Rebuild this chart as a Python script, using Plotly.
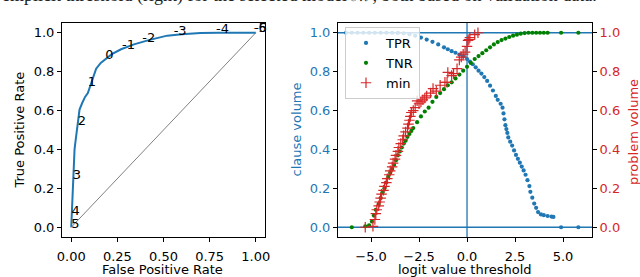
import plotly.graph_objects as go

# ---------------- data ----------------
caption_text = "emplicit threshold (right) for the selected model \u2133, both based on validation data."

roc_fpr = [0, 0.002, 0.005, 0.008, 0.011, 0.015, 0.018, 0.023, 0.029, 0.037, 0.045, 0.06, 0.075, 0.09,
           0.105, 0.12, 0.135, 0.16, 0.19, 0.22, 0.27, 0.34, 0.42, 0.52, 0.6, 0.7, 0.8, 0.9, 1.0]
roc_tpr = [0, 0.05, 0.16, 0.22, 0.28, 0.35, 0.40, 0.44, 0.49, 0.55, 0.605, 0.64, 0.67, 0.69,
           0.73, 0.77, 0.815, 0.845, 0.87, 0.89, 0.915, 0.94, 0.962, 0.985, 0.992, 0.998, 1.0, 1.0, 1.0]
diag_x = [0, 1]
diag_y = [0, 1]

thr_labels = ["5", "4", "3", "2", "1", "0", "-1", "-2", "-3", "-4", "-5", "-6"]
thr_fpr = [0.0, 0.002, 0.008, 0.035, 0.09, 0.185, 0.275, 0.385, 0.555, 0.785, 0.99, 0.99]
thr_tpr = [-0.02, 0.045, 0.23, 0.51, 0.71, 0.85, 0.9, 0.935, 0.97, 0.98, 0.985, 0.985]

tpr_x = [-6.3, -6.0, -5.7, -5.4, -5.1, -4.8, -4.5, -4.2, -3.9, -3.6, -3.3, -3.0, -2.7, -2.4, -2.1, -1.8,
         -1.5, -1.2, -1.0, -0.8, -0.6, -0.4, -0.2, 0.0, 0.15, 0.3, 0.45, 0.6, 0.75, 0.9, 1.05, 1.2,
         1.35, 1.5, 1.6, 1.75, 1.85, 1.9, 1.95, 2.0, 2.05, 2.1, 2.15, 2.25, 2.35, 2.45, 2.55, 2.65,
         2.75, 2.85, 2.95, 3.05, 3.15, 3.25, 3.3, 3.4, 3.5, 3.6, 3.7, 3.85, 4.0, 4.2, 4.4, 4.5, 4.9, 5.8]
tpr_y = [1.0, 1.0, 1.0, 1.0, 1.0, 1.0, 1.0, 1.0, 1.0, 0.999, 0.997, 0.992, 0.984, 0.975, 0.965, 0.953,
         0.94, 0.925, 0.915, 0.905, 0.897, 0.888, 0.878, 0.865, 0.852, 0.838, 0.822, 0.805, 0.79, 0.772,
         0.752, 0.728, 0.703, 0.675, 0.655, 0.635, 0.615, 0.585, 0.555, 0.525, 0.505, 0.485, 0.462,
         0.44, 0.42, 0.395, 0.372, 0.352, 0.332, 0.312, 0.292, 0.27, 0.242, 0.212, 0.182, 0.152,
         0.122, 0.1, 0.078, 0.066, 0.062, 0.058, 0.055, 0.053, 0.0, 0.0]

tnr_x = [-6.0, -5.3, -5.1, -4.95, -4.85, -4.75, -4.6, -4.5, -4.4, -4.3, -4.2, -4.1, -4.0, -3.9, -3.8,
         -3.7, -3.6, -3.5, -3.4, -3.3, -3.2, -3.1, -3.0, -2.9, -2.8, -2.6, -2.4, -2.2, -2.0, -1.8, -1.6,
         -1.4, -1.2, -1.0, -0.8, -0.6, -0.4, -0.2, 0.0, 0.2, 0.4, 0.6, 0.8, 1.0, 1.2, 1.4, 1.6, 1.8,
         2.0, 2.2, 2.4, 2.6, 2.8, 3.0, 3.2, 3.4, 3.6, 3.8, 4.0, 4.2, 4.9, 5.8]
tnr_y = [0.0, 0.005, 0.01, 0.03, 0.06, 0.09, 0.12, 0.15, 0.18, 0.2, 0.23, 0.26, 0.28, 0.3, 0.32,
         0.345, 0.37, 0.39, 0.41, 0.43, 0.445, 0.465, 0.48, 0.495, 0.51, 0.54, 0.57, 0.595, 0.615,
         0.645, 0.67, 0.69, 0.71, 0.73, 0.745, 0.765, 0.785, 0.805, 0.825, 0.845, 0.865, 0.88, 0.895,
         0.91, 0.925, 0.94, 0.952, 0.962, 0.97, 0.978, 0.985, 0.99, 0.995, 0.998, 1.0, 1.0, 1.0, 1.0,
         1.0, 1.0, 1.0, 1.0]

min_x = [-5.3, -4.9, -4.8, -4.75, -4.7, -4.6, -4.55, -4.5, -4.45, -4.35, -4.3, -4.2, -4.15, -4.05,
         -4.0, -3.9, -3.85, -3.75, -3.7, -3.6, -3.55, -3.45, -3.35, -3.3, -3.2, -3.1, -3.05, -3.0,
         -2.95, -2.9, -2.8, -2.7, -2.6, -2.5, -2.4, -2.3, -2.2, -2.1, -1.9, -1.77, -1.6, -1.4, -1.15,
         -1.04, -1.0, -0.8, -0.7, -0.52, -0.4, -0.3, -0.2, -0.1, 0.0, 0.05, 0.1, 0.15, 0.4, 0.57]
min_y = [0.0, 0.005, 0.04, 0.07, 0.09, 0.11, 0.13, 0.15, 0.17, 0.19, 0.21, 0.23, 0.25, 0.27,
         0.29, 0.31, 0.33, 0.35, 0.37, 0.39, 0.41, 0.43, 0.45, 0.47, 0.49, 0.51, 0.53, 0.55,
         0.57, 0.59, 0.6, 0.615, 0.65, 0.635, 0.645, 0.655, 0.665, 0.675, 0.69, 0.713, 0.7, 0.73, 0.745,
         0.745, 0.796, 0.78, 0.79, 0.815, 0.86, 0.875, 0.89, 0.9, 0.93, 0.96, 0.965, 0.975, 0.99, 1.0]

left_x_ticks = [0.0, 0.25, 0.5, 0.75, 1.0]
left_x_ticktext = ["0.00", "0.25", "0.50", "0.75", "1.00"]
y_ticks = [0.0, 0.2, 0.4, 0.6, 0.8, 1.0]
y_ticktext = ["0.0", "0.2", "0.4", "0.6", "0.8", "1.0"]
right_x_ticks = [-5.0, -2.5, 0.0, 2.5, 5.0]
right_x_ticktext = ["\u22125.0", "\u22122.5", "0.0", "2.5", "5.0"]

# ---------------- style ----------------
BLUE = "#1f77b4"
GREEN = "#008000"
RED = "#d62728"
FONT = "DejaVu Sans"
FS = 13
W, H = 640, 277

fig = go.Figure()

# Left: ROC
fig.add_trace(go.Scatter(x=diag_x, y=diag_y, mode="lines", line=dict(color="gray", width=1),
                         xaxis="x", yaxis="y", showlegend=False, hoverinfo="skip"))
fig.add_trace(go.Scatter(x=roc_fpr, y=roc_tpr, mode="lines", line=dict(color=BLUE, width=2),
                         xaxis="x", yaxis="y", showlegend=False))
fig.add_trace(go.Scatter(x=thr_fpr, y=thr_tpr, mode="text", text=thr_labels,
                         textposition="top right", textfont=dict(family=FONT, size=FS, color="black"),
                         xaxis="x", yaxis="y", showlegend=False, cliponaxis=False))

# Right
fig.add_trace(go.Scatter(x=tpr_x, y=tpr_y, mode="markers", name="TPR",
                         marker=dict(color=BLUE, size=4.2, line=dict(width=0)),
                         xaxis="x2", yaxis="y2"))
fig.add_trace(go.Scatter(x=tnr_x, y=tnr_y, mode="markers", name="TNR",
                         marker=dict(color=GREEN, size=4.2, line=dict(width=0)),
                         xaxis="x2", yaxis="y2"))
fig.add_trace(go.Scatter(x=min_x, y=min_y, mode="markers", name="min",
                         marker=dict(color=RED, size=7.5, symbol="cross-thin", line=dict(color=RED, width=1.2)),
                         xaxis="x2", yaxis="y3"))

axis_common = dict(showline=True, linecolor="black", linewidth=1, mirror=True, ticks="outside",
                   ticklen=4, tickcolor="black", tickwidth=1, showgrid=False, zeroline=False,
                   automargin=False,
                   tickfont=dict(family=FONT, size=FS, color="black"))

ydom = [1 - 237 / H, 1 - 23 / H]


def title_ann(text, px, py, angle=0, color="black"):
    return dict(text=text, xref="paper", yref="paper", x=px / W, y=1 - py / H,
                xanchor="center", yanchor="middle", showarrow=False, textangle=angle,
                font=dict(family=FONT, size=FS, color=color))


fig.update_layout(
    width=W, height=H,
    margin=dict(l=0, r=0, t=0, b=0),
    paper_bgcolor="white", plot_bgcolor="white",
    font=dict(family=FONT, size=FS, color="black"),
    xaxis=dict(axis_common, domain=[62 / W, 265 / W], range=[-0.05, 1.05], anchor="y",
               tickvals=left_x_ticks, ticktext=left_x_ticktext, ticklabelstandoff=3),
    yaxis=dict(axis_common, domain=ydom, range=[-0.05, 1.05], anchor="x",
               tickvals=y_ticks, ticktext=y_ticktext),
    xaxis2=dict(axis_common, domain=[338 / W, 592 / W], range=[-6.72, 6.51], anchor="y2",
                tickvals=right_x_ticks, ticktext=right_x_ticktext, ticklabelstandoff=3),
    yaxis2=dict(axis_common, domain=ydom, range=[-0.05, 1.05], anchor="x2",
                tickvals=y_ticks, ticktext=y_ticktext, mirror=False,
                tickfont=dict(family=FONT, size=FS, color=BLUE)),
    yaxis3=dict(axis_common, overlaying="y2", side="right", range=[-0.05, 1.05], anchor="x2",
                tickvals=y_ticks, ticktext=y_ticktext, mirror=False,
                tickfont=dict(family=FONT, size=FS, color=RED)),
    legend=dict(x=345 / W, y=1 - 27 / H, xanchor="left", yanchor="top",
                bgcolor="rgba(255,255,255,0.8)", bordercolor="#cccccc", borderwidth=1,
                font=dict(family=FONT, size=FS), itemwidth=30, tracegroupgap=0),
    shapes=[
        dict(type="line", xref="x2 domain", yref="y2", x0=0, x1=1, y0=0, y1=0,
             line=dict(color=BLUE, width=1.3), layer="below"),
        dict(type="line", xref="x2 domain", yref="y2", x0=0, x1=1, y0=1, y1=1,
             line=dict(color=BLUE, width=1.3), layer="below"),
        dict(type="line", xref="x2", yref="y2 domain", x0=0, x1=0, y0=0, y1=1,
             line=dict(color=BLUE, width=1.3), layer="below"),
    ],
    annotations=[
        dict(text=caption_text, xref="paper", yref="paper", x=0, y=1 - 8 / H,
             xanchor="left", yanchor="bottom", showarrow=False,
             font=dict(family="Liberation Serif", size=18, color="#222222")),
        title_ann("False Positive Rate", 162, 269.5),
        title_ann("logit value threshold", 465, 269.5),
        title_ann("True Positive Rate", 18.5, 130, -90),
        title_ann("clause volume", 295.5, 130, -90, BLUE),
        title_ann("problem volume", 633, 132, -90, RED),
    ],
)

fig.write_html("out.html", config={"displayModeBar": False},
               post_script="document.body.style.margin='0';document.body.style.overflow='hidden';")
